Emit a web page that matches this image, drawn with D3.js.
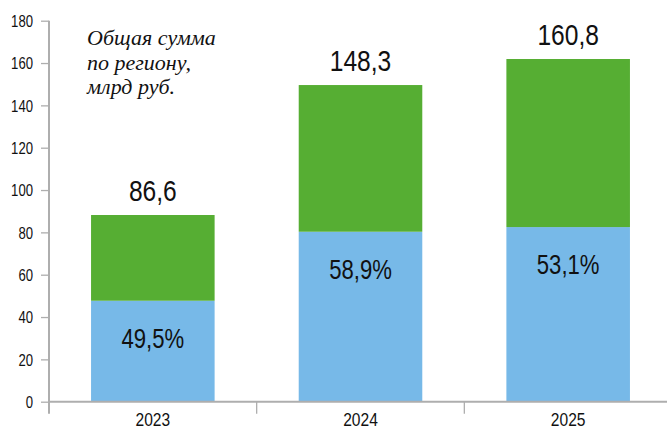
<!DOCTYPE html>
<html>
<head>
<meta charset="utf-8">
<script src="https://cdn.jsdelivr.net/npm/d3@7"></script>
<style>
  html, body { margin: 0; padding: 0; background: #fff; }
  svg { display: block; }
  .narrow { font-family: "Liberation Sans", Arial, sans-serif; }
</style>
</head>
<body>
<svg id="chart" width="667" height="431"></svg>
<script>
// ---- data ----
const years = ["2023", "2024", "2025"];
const blueValues = [47.7, 80.3, 82.5];     // lower (blue) segment
const greenValues = [40.5, 69.3, 79.4];    // upper (green) segment
const totalLabels = ["86,6", "148,3", "160,8"];
const shareLabels = ["49,5%", "58,9%", "53,1%"];
const yTicks = [0, 20, 40, 60, 80, 100, 120, 140, 160, 180];
const noteLines = ["Общая сумма", "по региону,", "млрд руб."];

// ---- layout ----
const W = 667, H = 431;
const axisX = 49, yTop = 20.7, yBottom = 401.7;
const NARROW = 0.82;
const svg = d3.select("#chart");

const y = d3.scaleLinear().domain([0, 180]).range([yBottom, yTop]);
const x = d3.scaleBand().domain(years).range([axisX, 672]).padding(0);
const barW = x.step() * 0.595;
const barX = d => x(d) + (x.bandwidth() - barW) / 2;

const axisColor = "#aeaeae";

// bars
const rows = years.map((yr, i) => ({
  yr, blue: blueValues[i], green: greenValues[i],
  total: blueValues[i] + greenValues[i],
  tl: totalLabels[i], sl: shareLabels[i]
}));

svg.append("g").selectAll("rect").data(rows).join("rect")
  .attr("x", d => barX(d.yr)).attr("width", barW)
  .attr("y", d => y(d.blue)).attr("height", d => y(0) - y(d.blue))
  .attr("fill", "#77b9e8");

svg.append("g").selectAll("rect").data(rows).join("rect")
  .attr("x", d => barX(d.yr)).attr("width", barW)
  .attr("y", d => y(d.total)).attr("height", d => y(d.blue) - y(d.total))
  .attr("fill", "#56ae33");

// y axis
const yAxis = d3.axisLeft(y).tickValues(yTicks).tickSize(8).tickPadding(0);
const gy = svg.append("g").attr("transform", `translate(${axisX},0)`).call(yAxis);
gy.select(".domain").attr("stroke", axisColor).attr("stroke-width", 2)
  .attr("d", `M0,${yTop}V${yBottom + 12}`);
gy.selectAll(".tick line").attr("stroke", axisColor).attr("stroke-width", 1.3);
gy.selectAll(".tick text").attr("class", "narrow").attr("font-size", 16)
  .attr("fill", "#111").attr("x", null).attr("dy", "0.36em")
  .attr("transform", `translate(-16,0) scale(${NARROW},1)`);

// x axis
const gx = svg.append("g").attr("transform", `translate(0,${yBottom})`);
gx.append("line").attr("x1", axisX).attr("x2", W).attr("y1", 0).attr("y2", 0)
  .attr("stroke", axisColor).attr("stroke-width", 2);
gx.selectAll("line.sep").data(years.slice(1)).join("line")
  .attr("class", "sep")
  .attr("x1", d => x(d)).attr("x2", d => x(d)).attr("y1", 0).attr("y2", 12)
  .attr("stroke", axisColor).attr("stroke-width", 1.3);
gx.selectAll("text").data(years).join("text")
  .attr("class", "narrow")
  .attr("transform", d => `translate(${x(d) + x.bandwidth() / 2},24.5) scale(${NARROW},1)`)
  .attr("text-anchor", "middle").attr("font-size", 19).attr("fill", "#111")
  .text(d => d);

// total labels
svg.append("g").selectAll("text").data(rows).join("text")
  .attr("class", "narrow")
  .attr("transform", d => `translate(${barX(d.yr) + barW / 2},${y(d.total) - 14}) scale(${NARROW},1)`)
  .attr("text-anchor", "middle").attr("font-size", 30).attr("fill", "#111")
  .text(d => d.tl);

// share labels
svg.append("g").selectAll("text").data(rows).join("text")
  .attr("class", "narrow")
  .attr("transform", d => `translate(${barX(d.yr) + barW / 2},${y(d.blue) + 47}) scale(${NARROW},1)`)
  .attr("text-anchor", "middle").attr("font-size", 27).attr("fill", "#111")
  .text(d => d.sl);

// note
svg.append("text")
  .attr("x", 87).attr("y", 45)
  .attr("font-family", "'Liberation Serif', 'DejaVu Serif', serif")
  .attr("font-style", "italic").attr("font-size", 22).attr("fill", "#111")
  .selectAll("tspan").data(noteLines).join("tspan")
  .attr("x", 87).attr("dy", (d, i) => i === 0 ? 0 : 24.5)
  .text(d => d);
</script>
</body>
</html>
